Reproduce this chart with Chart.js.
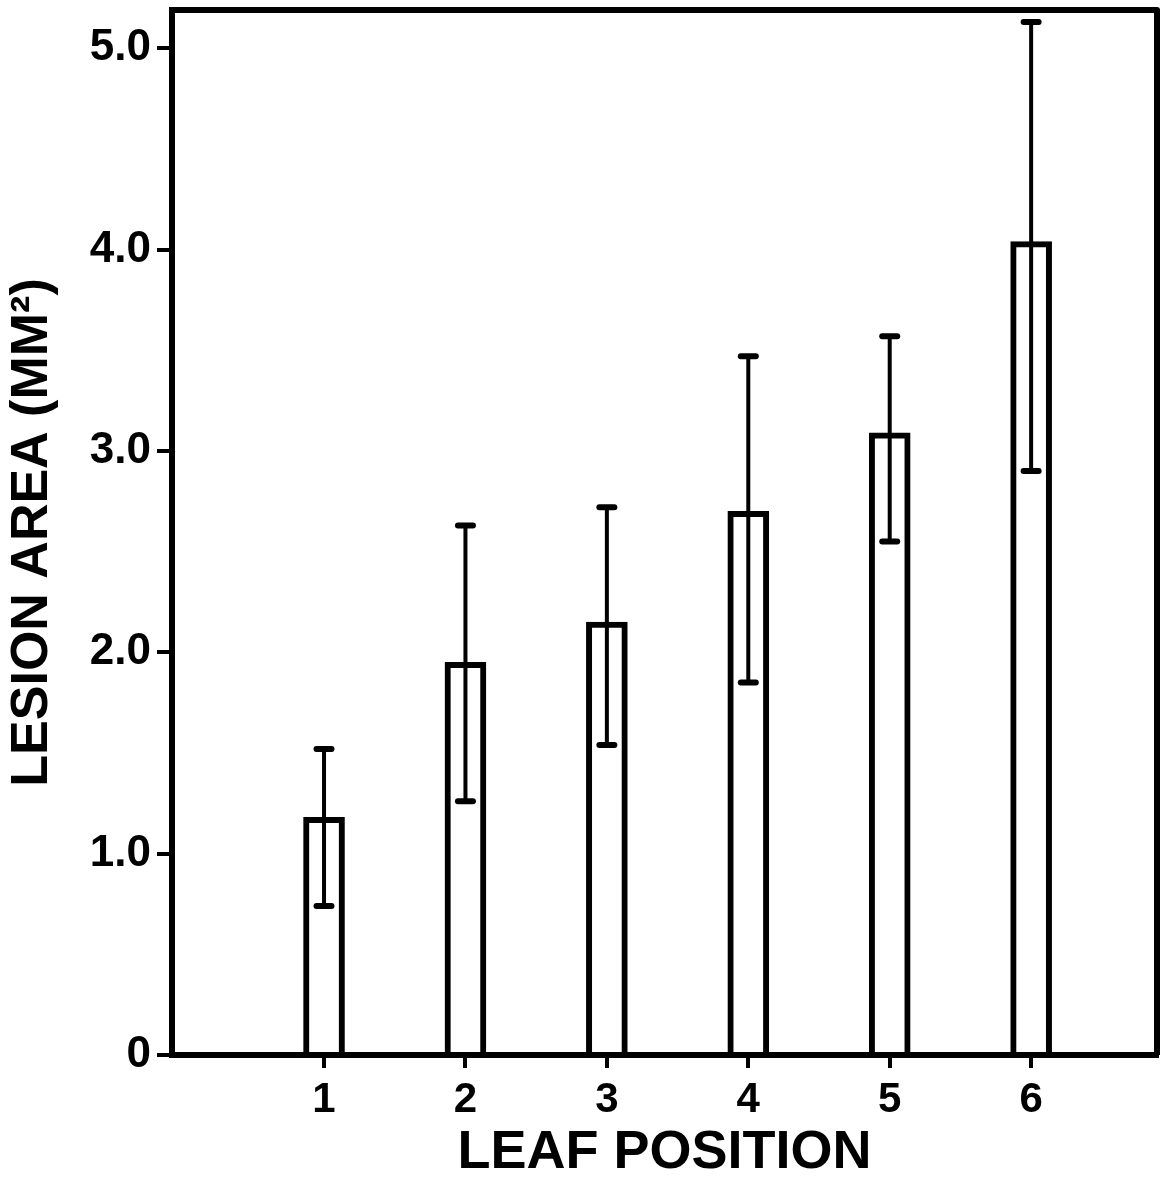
<!DOCTYPE html>
<html>
<head>
<meta charset="utf-8">
<script src="https://cdn.jsdelivr.net/npm/chart.js@4/dist/chart.umd.min.js"></script>
<style>
  html, body { margin: 0; padding: 0; background: #fff; }
  #wrap { width: 1162px; height: 1180px; }
</style>
</head>
<body>
<div id="wrap"><canvas id="c" width="1162" height="1180"></canvas></div>
<script>
// ---- data ----
const categories = [1, 2, 3, 4, 5, 6];
const xTickLabels = ['1', '2', '3', '4', '5', '6'];
const means   = [1.18, 1.95, 2.15, 2.70, 3.09, 4.04];
const errHigh = [1.52, 2.63, 2.72, 3.47, 3.57, 5.13];
const errLow  = [0.74, 1.26, 1.54, 1.85, 2.55, 2.90];
const yTickValues = [0, 1, 2, 3, 4, 5];
const yTickLabels = ['0', '1.0', '2.0', '3.0', '4.0', '5.0'];
const xTitle = 'LEAF POSITION';
const yTitle = 'LESION AREA (MM\u00B2)';

const FONT = "'Liberation Sans', Arial, Helvetica, sans-serif";

const errorBars = {
  id: 'errorBars',
  afterDatasetsDraw(chart) {
    const { ctx, scales: { x, y } } = chart;
    ctx.save();
    ctx.strokeStyle = '#000';
    ctx.lineCap = 'round';
    categories.forEach((c, i) => {
      const px = x.getPixelForValue(c);
      const yHi = y.getPixelForValue(errHigh[i]);
      const yLo = y.getPixelForValue(errLow[i]);
      ctx.lineWidth = 4;
      ctx.beginPath(); ctx.moveTo(px, yHi); ctx.lineTo(px, yLo); ctx.stroke();
      ctx.lineWidth = 6;
      [yHi, yLo].forEach(yy => {
        ctx.beginPath(); ctx.moveTo(px - 7.5, yy); ctx.lineTo(px + 7.5, yy); ctx.stroke();
      });
    });
    ctx.restore();
  }
};

const frame = {
  id: 'frame',
  afterDraw(chart) {
    const { ctx, chartArea: a } = chart;
    ctx.save();
    ctx.strokeStyle = '#000';
    ctx.lineWidth = 6;
    ctx.lineJoin = 'round';
    ctx.beginPath();
    ctx.moveTo(a.left, a.top);
    ctx.lineTo(a.right, a.top);
    ctx.lineTo(a.right, a.bottom);
    ctx.stroke();
    ctx.restore();
  }
};

new Chart(document.getElementById('c'), {
  type: 'bar',
  data: {
    datasets: [{
      data: categories.map((c, i) => ({ x: c, y: means[i] })),
      backgroundColor: '#fff',
      borderColor: '#000',
      borderWidth: 6,
      barThickness: 41
    }]
  },
  options: {
    responsive: false,
    animation: false,
    layout: { padding: { top: 10, right: 5, left: 0, bottom: 0 } },
    plugins: { legend: { display: false }, tooltip: { enabled: false } },
    scales: {
      x: {
        type: 'linear',
        offset: false,
        min: -0.075,
        max: 6.89,
        afterBuildTicks: s => { s.ticks = categories.map(v => ({ value: v })); },
        afterFit: s => { s.height = 125; s.paddingLeft = 0; s.paddingRight = 0; },
        ticks: {
          callback: (v, i) => xTickLabels[i],
          autoSkip: false,
          maxRotation: 0,
          color: '#000',
          padding: 11,
          font: { family: FONT, size: 42, weight: 'bold', lineHeight: 1 }
        },
        grid: { offset: false, drawOnChartArea: false, drawTicks: true, tickLength: 13, color: '#000', lineWidth: 4 },
        border: { display: true, color: '#000', width: 6, z: 1 },
        title: {
          display: true, text: xTitle, color: '#000',
          padding: { top: 0, bottom: 0 },
          font: { family: FONT, size: 54, weight: 'bold', lineHeight: 1 }
        }
      },
      y: {
        min: 0,
        max: 5.19,
        afterBuildTicks: s => { s.ticks = yTickValues.map(v => ({ value: v })); },
        afterFit: s => { s.width = 172; s.paddingTop = 0; s.paddingBottom = 0; },
        ticks: {
          callback: (v, i) => yTickLabels[i],
          color: '#000',
          padding: 6,
          font: { family: FONT, size: 44, weight: 'bold', lineHeight: 1 }
        },
        grid: { drawOnChartArea: false, drawTicks: true, tickLength: 15, color: '#000', lineWidth: 4 },
        border: { display: true, color: '#000', width: 6, z: 1 },
        title: {
          display: true, text: yTitle, color: '#000',
          padding: { top: 7, bottom: 0 },
          font: { family: FONT, size: 52, weight: 'bold', lineHeight: 1 }
        }
      }
    }
  },
  plugins: [errorBars, frame]
});
</script>
</body>
</html>
